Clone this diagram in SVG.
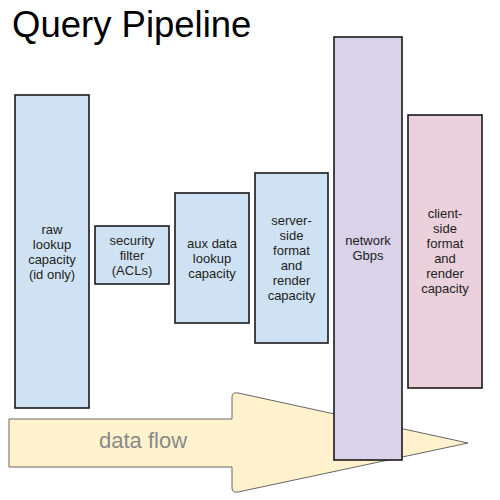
<svg xmlns="http://www.w3.org/2000/svg" width="500" height="500" viewBox="0 0 500 500">
<style>
.box{stroke:#1a1a1a;stroke-width:1.6}
.blue{fill:#cfe2f3}
.purple{fill:#d9d2e9}
.pink{fill:#ead1dc}
.lbl{font-family:"Liberation Sans",Arial,sans-serif;font-size:13px;fill:#222;text-anchor:middle}
</style>
<rect width="500" height="500" fill="#fff"/>
<text x="12" y="37" font-family="Liberation Sans, Arial, sans-serif" font-size="36.5" fill="#000">Query Pipeline</text>
<g id="connectors">
<path d="M9,419 L232,419 L232,397 Q232,392 238,393 L468,443 L238,492 Q232,493 232,488 L232,467 L9,467 Z" fill="#fff2cc" stroke="#666" stroke-width="1"/>
<text x="143" y="448" font-family="Liberation Sans, Arial, sans-serif" font-size="22" fill="#8a8a8a" text-anchor="middle">data flow</text>
</g>
<g id="raw-lookup">
<rect class="box blue" x="15" y="95" width="74" height="313"/>
<text class="lbl" x="52" y="233.5"><tspan x="52">raw</tspan><tspan x="52" dy="15">lookup</tspan><tspan x="52" dy="15">capacity</tspan><tspan x="52" dy="15">(id only)</tspan></text>
</g>
<g id="security-filter">
<rect class="box blue" x="95" y="226" width="74" height="58"/>
<text class="lbl" x="132" y="244.5"><tspan x="132">security</tspan><tspan x="132" dy="15">filter</tspan><tspan x="132" dy="15">(ACLs)</tspan></text>
</g>
<g id="aux-data">
<rect class="box blue" x="175" y="193" width="74" height="130"/>
<text class="lbl" x="212" y="247.5"><tspan x="212">aux data</tspan><tspan x="212" dy="15">lookup</tspan><tspan x="212" dy="15">capacity</tspan></text>
</g>
<g id="server-side">
<rect class="box blue" x="255" y="173" width="73" height="170"/>
<text class="lbl" x="291.5" y="225"><tspan x="291.5">server-</tspan><tspan x="291.5" dy="15">side</tspan><tspan x="291.5" dy="15">format</tspan><tspan x="291.5" dy="15">and</tspan><tspan x="291.5" dy="15">render</tspan><tspan x="291.5" dy="15">capacity</tspan></text>
</g>
<g id="network">
<rect class="box purple" x="334" y="37" width="68" height="423"/>
<text class="lbl" x="368" y="245"><tspan x="368">network</tspan><tspan x="368" dy="15">Gbps</tspan></text>
</g>
<g id="client-side">
<rect class="box pink" x="408" y="115" width="74" height="273"/>
<text class="lbl" x="445" y="218"><tspan x="445">client-</tspan><tspan x="445" dy="15">side</tspan><tspan x="445" dy="15">format</tspan><tspan x="445" dy="15">and</tspan><tspan x="445" dy="15">render</tspan><tspan x="445" dy="15">capacity</tspan></text>
</g>
</svg>
